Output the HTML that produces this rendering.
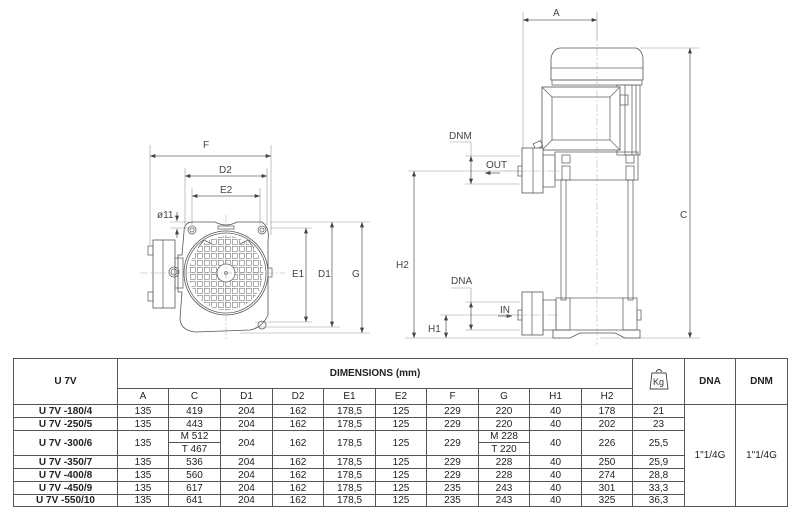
<!DOCTYPE html>
<html><head><meta charset="utf-8"><style>
html,body{margin:0;padding:0;background:#fff;}
body{width:800px;height:524px;position:relative;overflow:hidden;font-family:"Liberation Sans",sans-serif;}
svg{position:absolute;left:0;top:0;}
table{position:absolute;left:13px;top:358px;border-collapse:collapse;font-size:10px;color:#222;}
td{border:1px solid #555;text-align:center;padding:0;line-height:11px;}
.b{font-weight:bold;}
</style></head><body>
<svg width="800" height="356" viewBox="0 0 800 356" font-family="Liberation Sans, sans-serif" font-size="10" fill="none" stroke="#666" stroke-width="0.8">
<defs>
<marker id="ar" viewBox="0 0 8 6" refX="8" refY="3" markerWidth="7" markerHeight="5" orient="auto-start-reverse"><path d="M0,0L8,3L0,6z" fill="#444" stroke="none"/></marker>
<pattern id="grid" width="7" height="7" patternUnits="userSpaceOnUse" x="0.5" y="0.5"><rect x="0.8" y="0.8" width="5" height="5" stroke="#777" stroke-width="0.6" fill="none"/></pattern>
<clipPath id="cc"><circle cx="226" cy="273" r="37"/></clipPath>
</defs>
<!-- LEFT VIEW -->
<g stroke="#999" stroke-width="0.6">
<line x1="150" y1="145" x2="150" y2="245"/><line x1="271" y1="145" x2="271" y2="235"/>
<line x1="185" y1="168" x2="185" y2="225"/><line x1="267" y1="168" x2="267" y2="225"/>
<line x1="192" y1="188" x2="192" y2="225"/><line x1="260" y1="188" x2="260" y2="225"/>
<line x1="270" y1="222" x2="370" y2="222"/><line x1="270" y1="228" x2="312" y2="228"/>
<line x1="255" y1="322" x2="312" y2="322"/><line x1="255" y1="327" x2="340" y2="327"/><line x1="240" y1="333" x2="370" y2="333"/>
<line x1="170" y1="222" x2="190" y2="222"/><line x1="170" y1="228" x2="190" y2="228"/>
</g>
<line x1="150" y1="156" x2="271" y2="156" marker-start="url(#ar)" marker-end="url(#ar)"/>
<line x1="185" y1="176" x2="267" y2="176" marker-start="url(#ar)" marker-end="url(#ar)"/>
<line x1="192" y1="196" x2="260" y2="196" marker-start="url(#ar)" marker-end="url(#ar)"/>
<line x1="306" y1="228" x2="306" y2="322" marker-start="url(#ar)" marker-end="url(#ar)"/>
<line x1="332" y1="222" x2="332" y2="327" marker-start="url(#ar)" marker-end="url(#ar)"/>
<line x1="362" y1="222" x2="362" y2="333" marker-start="url(#ar)" marker-end="url(#ar)"/>
<line x1="177" y1="212" x2="177" y2="221" marker-end="url(#ar)"/><line x1="177" y1="238" x2="177" y2="229" marker-end="url(#ar)"/>
<g fill="#444" stroke="none">
<text x="203" y="148">F</text><text x="219" y="173">D2</text><text x="220" y="193">E2</text>
<text x="157" y="218">ø11</text><text x="292" y="277">E1</text><text x="318" y="277">D1</text><text x="352" y="277">G</text>
</g>
<!-- body -->
<path d="M193,222 L215,222 Q226,228 237,222 L262,222 Q270,228 268,240 L268,315 Q262,328 250,330 L195,332 Q180,330 180,318 L182,292 L178,292 L178,255 L182,255 L184,232 Q184,222 193,222z" stroke="#555"/>
<circle cx="192" cy="230" r="4"/><circle cx="262" cy="230" r="4"/><circle cx="192" cy="230" r="2"/><circle cx="262" cy="230" r="2"/>
<circle cx="262" cy="325" r="4"/>
<rect x="218" y="226" width="16" height="3"/>
<path d="M198,248 L204,240 L212,244"/><path d="M254,248 L248,240 L240,244"/>
<circle cx="226" cy="273" r="42" stroke="#555"/><circle cx="226" cy="273" r="40"/>
<rect x="185" y="232" width="82" height="82" fill="url(#grid)" clip-path="url(#cc)" stroke="none"/>
<circle cx="226" cy="273" r="9" fill="#fff"/><circle cx="226" cy="273" r="1.5"/>
<rect x="153" y="240" width="22" height="68" fill="#fff" stroke="#555"/><line x1="163" y1="240" x2="163" y2="308"/>
<rect x="148" y="246" width="5" height="9"/><rect x="148" y="292" width="5" height="9"/>
<rect x="175" y="258" width="8" height="30"/><circle cx="174" cy="272" r="5"/><circle cx="174" cy="272" r="3"/>
<rect x="268" y="268" width="4" height="9"/>
<g stroke="#aaa" stroke-width="0.5" stroke-dasharray="8,2,2,2"><line x1="140" y1="273" x2="285" y2="273"/><line x1="226" y1="215" x2="226" y2="340"/></g>
<!-- RIGHT VIEW -->
<g stroke="#999" stroke-width="0.6">
<line x1="523" y1="12" x2="523" y2="150"/><line x1="597" y1="12" x2="597" y2="40"/>
<line x1="640" y1="48" x2="700" y2="48"/><line x1="600" y1="338" x2="700" y2="338"/>
<line x1="408" y1="171" x2="525" y2="171"/><line x1="405" y1="338" x2="560" y2="338"/>
<line x1="440" y1="315" x2="525" y2="315"/>
<line x1="465" y1="156" x2="520" y2="156"/><line x1="465" y1="184" x2="520" y2="184"/>
<line x1="465" y1="302" x2="520" y2="302"/><line x1="465" y1="330" x2="520" y2="330"/>
<line x1="450" y1="142" x2="471" y2="142"/><line x1="451" y1="288" x2="471" y2="288"/>
<line x1="471" y1="142" x2="471" y2="156"/><line x1="471" y1="288" x2="471" y2="302"/>
</g>
<line x1="523" y1="20" x2="597" y2="20" marker-start="url(#ar)" marker-end="url(#ar)"/>
<line x1="690" y1="48" x2="690" y2="338" marker-start="url(#ar)" marker-end="url(#ar)"/>
<line x1="414" y1="171" x2="414" y2="338" marker-start="url(#ar)" marker-end="url(#ar)"/>
<line x1="446" y1="315" x2="446" y2="338" marker-start="url(#ar)" marker-end="url(#ar)"/>
<line x1="471" y1="156" x2="471" y2="184" marker-start="url(#ar)" marker-end="url(#ar)"/>
<line x1="471" y1="302" x2="471" y2="330" marker-start="url(#ar)" marker-end="url(#ar)"/>
<line x1="500" y1="173" x2="485" y2="173" marker-end="url(#ar)"/>
<line x1="498" y1="316" x2="512" y2="316" marker-end="url(#ar)"/>
<g fill="#444" stroke="none">
<text x="553" y="16">A</text><text x="680" y="218">C</text><text x="396" y="268">H2</text><text x="428" y="332">H1</text>
<text x="449" y="139">DNM</text><text x="451" y="284">DNA</text><text x="486" y="168">OUT</text><text x="500" y="313">IN</text>
</g>
<!-- motor -->
<path d="M551,80 L551,58 Q553,49 560,48 L636,48 Q642,50 643,58 L643,80z" stroke="#555"/>
<line x1="551" y1="68" x2="643" y2="68"/><rect x="552" y="80" width="90" height="5"/>
<rect x="617" y="85" width="23" height="70"/><line x1="625" y1="85" x2="625" y2="155"/><line x1="632" y1="85" x2="632" y2="155"/><line x1="636" y1="85" x2="636" y2="155"/>
<rect x="542" y="87" width="78" height="63" fill="#fff" stroke="#555"/><rect x="552" y="97" width="58" height="43"/>
<line x1="542" y1="87" x2="552" y2="97"/><line x1="620" y1="87" x2="610" y2="97"/><line x1="542" y1="150" x2="552" y2="140"/><line x1="620" y1="150" x2="610" y2="140"/>
<rect x="620" y="95" width="8" height="10"/><rect x="534" y="142" width="8" height="6" transform="rotate(-25 538 145)"/>
<!-- pump head -->
<rect x="555" y="152" width="83" height="28"/>
<rect x="562" y="155" width="8" height="8"/><rect x="626" y="155" width="8" height="8"/>
<rect x="562" y="166" width="8" height="14"/><rect x="626" y="166" width="8" height="14"/>
<rect x="543" y="155" width="12" height="32"/>
<rect x="522" y="148" width="21" height="45" fill="#fff" stroke="#555"/><line x1="533" y1="148" x2="533" y2="193"/>
<rect x="518" y="166" width="4" height="10"/>
<!-- tie rods -->
<rect x="561" y="180" width="5" height="120"/><rect x="628" y="180" width="5" height="120"/>
<!-- base -->
<rect x="556" y="298" width="14" height="32"/><rect x="623" y="298" width="14" height="32"/>
<line x1="570" y1="298" x2="623" y2="298"/>
<path d="M553,330 L640,330 L640,338 L625,338 L615,333 L580,333 L570,338 L553,338z" stroke="#555"/>
<rect x="543" y="300" width="13" height="30"/>
<rect x="522" y="292" width="21" height="43" fill="#fff" stroke="#555"/><line x1="532" y1="292" x2="532" y2="335"/>
<rect x="518" y="310" width="4" height="10"/><rect x="637" y="310" width="4" height="10"/>
<g stroke="#aaa" stroke-width="0.5" stroke-dasharray="8,2,2,2"><line x1="597" y1="20" x2="597" y2="345"/><line x1="505" y1="171" x2="560" y2="171"/><line x1="505" y1="315" x2="560" y2="315"/></g>
</svg>
<table>
<colgroup><col style="width:104px"><col style="width:51px"><col style="width:52px"><col style="width:52px"><col style="width:51px"><col style="width:52px"><col style="width:51px"><col style="width:52px"><col style="width:51px"><col style="width:52px"><col style="width:51px"><col style="width:52px"><col style="width:51px"><col style="width:52px"></colgroup>
<tr style="height:30px"><td rowspan="2" class="b">U 7V</td><td colspan="10" class="b">DIMENSIONS (mm)</td><td rowspan="2"><svg width="22" height="26" viewBox="0 0 22 26" style="position:static"><path d="M8,5 Q11,0 14,5 M4,6 L18,6 L20,22 L2,22z" fill="none" stroke="#444" stroke-width="0.9"/><text x="5" y="18" font-size="9" fill="#333" font-family="Liberation Sans">Kg</text></svg></td><td rowspan="2" class="b">DNA</td><td rowspan="2" class="b">DNM</td></tr>
<tr style="height:16px"><td>A</td><td>C</td><td>D1</td><td>D2</td><td>E1</td><td>E2</td><td>F</td><td>G</td><td>H1</td><td>H2</td></tr>
<tr style="height:13px"><td class="b">U 7V -180/4</td><td>135</td><td>419</td><td>204</td><td>162</td><td>178,5</td><td>125</td><td>229</td><td>220</td><td>40</td><td>178</td><td>21</td><td rowspan="8">1"1/4G</td><td rowspan="8">1"1/4G</td></tr>
<tr style="height:13px"><td class="b">U 7V -250/5</td><td>135</td><td>443</td><td>204</td><td>162</td><td>178,5</td><td>125</td><td>229</td><td>220</td><td>40</td><td>202</td><td>23</td></tr>
<tr style="height:12px"><td rowspan="2" class="b">U 7V -300/6</td><td rowspan="2">135</td><td>M 512</td><td rowspan="2">204</td><td rowspan="2">162</td><td rowspan="2">178,5</td><td rowspan="2">125</td><td rowspan="2">229</td><td>M 228</td><td rowspan="2">40</td><td rowspan="2">226</td><td rowspan="2">25,5</td></tr>
<tr style="height:13px"><td>T 467</td><td>T 220</td></tr>
<tr style="height:13px"><td class="b">U 7V -350/7</td><td>135</td><td>536</td><td>204</td><td>162</td><td>178,5</td><td>125</td><td>229</td><td>228</td><td>40</td><td>250</td><td>25,9</td></tr>
<tr style="height:13px"><td class="b">U 7V -400/8</td><td>135</td><td>560</td><td>204</td><td>162</td><td>178,5</td><td>125</td><td>229</td><td>228</td><td>40</td><td>274</td><td>28,8</td></tr>
<tr style="height:13px"><td class="b">U 7V -450/9</td><td>135</td><td>617</td><td>204</td><td>162</td><td>178,5</td><td>125</td><td>235</td><td>243</td><td>40</td><td>301</td><td>33,3</td></tr>
<tr style="height:12px"><td class="b">U 7V -550/10</td><td>135</td><td>641</td><td>204</td><td>162</td><td>178,5</td><td>125</td><td>235</td><td>243</td><td>40</td><td>325</td><td>36,3</td></tr>
</table>
</body></html>
